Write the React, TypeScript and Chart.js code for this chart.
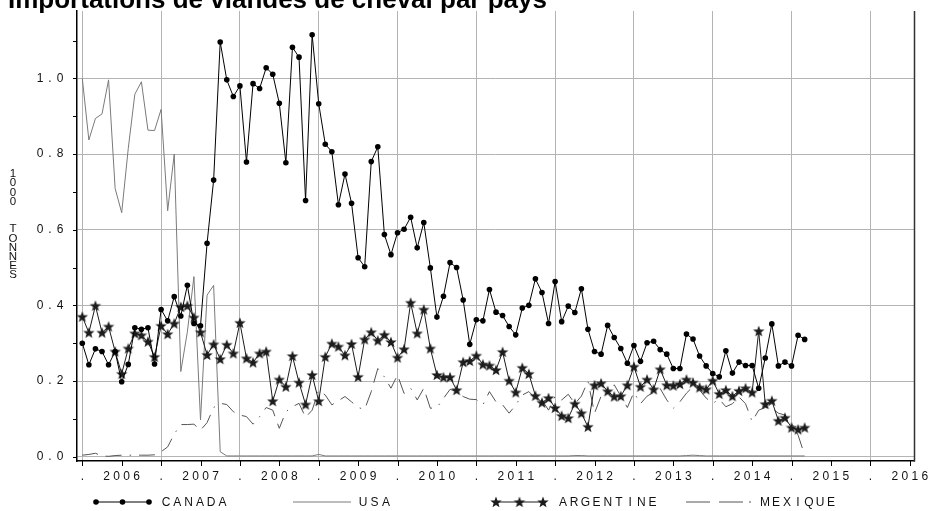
import { useEffect, useRef } from "react";
import { Chart, registerables } from "chart.js";
Chart.register(...registerables);

const TITLE = "Importations de viandes de cheval par pays";
const Y_TITLE = "1000  TONNES";
const YEARS = ["2006", "2007", "2008", "2009", "2010", "2011", "2012", "2013", "2014", "2015", "2016"];
const LEGEND = ["CANADA", "USA", "ARGENTINE", "MEXIQUE"];
const Y_TICKS = [0, 0.1, 0.2, 0.3, 0.4, 0.5, 0.6, 0.7, 0.8, 0.9, 1.0, 1.1];
const Y_LABELS = ["0.0", "", "0.2", "", "0.4", "", "0.6", "", "0.8", "", "1.0", ""];

// monthly values, first point = January 2006 (1000 tonnes)
const canada = [
  0.300, 0.243, 0.285, 0.278, 0.243, 0.278, 0.198, 0.244, 0.341, 0.337, 0.341, 0.245,
  0.389, 0.359, 0.423, 0.372, 0.453, 0.352, 0.346, 0.564, 0.731, 1.096, 0.996, 0.952,
  0.980, 0.779, 0.986, 0.973, 1.028, 1.011, 0.934, 0.777, 1.082, 1.056, 0.677, 1.115,
  0.933, 0.826, 0.806, 0.666, 0.747, 0.670, 0.526, 0.502, 0.780, 0.819, 0.587, 0.534,
  0.592, 0.601, 0.633, 0.552, 0.619, 0.499, 0.369, 0.424, 0.513, 0.500, 0.414, 0.297,
  0.362, 0.359, 0.442, 0.382, 0.373, 0.344, 0.322, 0.393, 0.400, 0.470, 0.434, 0.352,
  0.463, 0.357, 0.398, 0.381, 0.444, 0.337, 0.278, 0.271, 0.347, 0.315, 0.286, 0.247,
  0.294, 0.252, 0.301, 0.305, 0.283, 0.271, 0.233, 0.233, 0.324, 0.311, 0.266, 0.240,
  0.220, 0.211, 0.280, 0.221, 0.250, 0.241, 0.241, 0.181, 0.261, 0.351, 0.240, 0.250,
  0.240, 0.321, 0.310,
];
const usa = [
  1.000, 0.837, 0.894, 0.906, 0.996, 0.709, 0.645, 0.815, 0.958, 0.991, 0.863, 0.862,
  0.918, 0.650, 0.800, 0.225, 0.330, 0.476, 0.097, 0.427, 0.453, 0.013, 0.002, 0.002,
  0.002, 0.002, 0.002, 0.002, 0.002, 0.002, 0.002, 0.002, 0.002, 0.002, 0.002, 0.002,
  0.006, 0.002, 0.002, 0.002, 0.002, 0.002, 0.002, 0.002, 0.002, 0.002, 0.002, 0.002,
  0.002, 0.002, 0.002, 0.002, 0.002, 0.002, 0.002, 0.002, 0.002, 0.002, 0.002, 0.002,
  0.002, 0.002, 0.002, 0.002, 0.002, 0.002, 0.002, 0.002, 0.002, 0.002, 0.002, 0.002,
  0.002, 0.002, 0.002, 0.003, 0.003, 0.002, 0.002, 0.002, 0.002, 0.002, 0.002, 0.002,
  0.002, 0.002, 0.002, 0.002, 0.002, 0.002, 0.002, 0.002, 0.003, 0.004, 0.003, 0.002,
  0.002, 0.002, 0.002, 0.002, 0.002, 0.002, 0.002, 0.002, 0.002, 0.002, 0.002, 0.002,
  0.002, 0.002, 0.002,
];
const argentine = [
  0.370, 0.328, 0.399, 0.328, 0.344, 0.278, 0.219, 0.286, 0.326, 0.321, 0.304, 0.264,
  0.346, 0.324, 0.352, 0.396, 0.399, 0.368, 0.329, 0.269, 0.297, 0.258, 0.296, 0.273,
  0.354, 0.260, 0.249, 0.273, 0.278, 0.147, 0.204, 0.185, 0.266, 0.196, 0.138, 0.216,
  0.147, 0.264, 0.299, 0.291, 0.268, 0.298, 0.211, 0.310, 0.329, 0.307, 0.322, 0.303,
  0.262, 0.284, 0.407, 0.326, 0.389, 0.286, 0.216, 0.210, 0.210, 0.176, 0.250, 0.253,
  0.267, 0.244, 0.241, 0.229, 0.277, 0.201, 0.170, 0.235, 0.219, 0.161, 0.143, 0.155,
  0.129, 0.108, 0.102, 0.140, 0.115, 0.079, 0.189, 0.194, 0.173, 0.159, 0.160, 0.189,
  0.238, 0.185, 0.204, 0.178, 0.231, 0.189, 0.188, 0.192, 0.204, 0.196, 0.183, 0.178,
  0.201, 0.166, 0.176, 0.160, 0.174, 0.181, 0.170, 0.332, 0.139, 0.148, 0.095, 0.103,
  0.077, 0.072, 0.077,
];
const mexique = [
  0.004, 0.006, 0.009, 0.002, 0.001, 0.003, 0.004, 0.004, 0.004, 0.004, 0.004, 0.005,
  0.013, 0.026, 0.060, 0.085, 0.085, 0.086, 0.070, 0.090, 0.130, 0.141, 0.138, 0.119,
  0.110, 0.106, 0.086, 0.106, 0.130, 0.123, 0.075, 0.119, 0.132, 0.141, 0.104, 0.123,
  0.176, 0.163, 0.137, 0.148, 0.159, 0.145, 0.130, 0.125, 0.172, 0.233, 0.211, 0.181,
  0.216, 0.167, 0.181, 0.150, 0.181, 0.128, 0.130, 0.154, 0.178, 0.172, 0.159, 0.152,
  0.151, 0.137, 0.172, 0.145, 0.137, 0.115, 0.137, 0.163, 0.172, 0.154, 0.150, 0.123,
  0.160, 0.150, 0.165, 0.140, 0.160, 0.200, 0.115, 0.160, 0.170, 0.190, 0.160, 0.130,
  0.170, 0.140, 0.160, 0.170, 0.180, 0.150, 0.128, 0.145, 0.168, 0.185, 0.176, 0.155,
  0.141, 0.152, 0.132, 0.140, 0.158, 0.140, 0.093, 0.123, 0.130, 0.128, 0.115, 0.110,
  0.090, 0.057, 0.004,
];

const X_TICKS = Array.from({ length: 22 }, (_, i) => i * 6);
const FONT = '12px "Liberation Sans", Arial, sans-serif';
const GRID = "#b4b4b4";

function pts(arr: number[]) {
  return arr.map((v, i) => ({ x: i, y: v }));
}

function makeStar(color: string) {
  const c = document.createElement("canvas");
  c.width = 14;
  c.height = 14;
  const g = c.getContext("2d")!;
  g.beginPath();
  for (let i = 0; i < 10; i++) {
    const r = i % 2 === 0 ? 6 : 2.5;
    const a = -Math.PI / 2 + (i * Math.PI) / 5;
    const px = 7 + r * Math.cos(a);
    const py = 7.4 + r * Math.sin(a);
    if (i === 0) g.moveTo(px, py);
    else g.lineTo(px, py);
  }
  g.closePath();
  g.fillStyle = color;
  g.fill();
  return c;
}

function spaced(ctx: CanvasRenderingContext2D, text: string, cx: number, cy: number, pitch: number) {
  const start = cx - ((text.length - 1) * pitch) / 2;
  for (let i = 0; i < text.length; i++) {
    if (text[i] !== " ") ctx.fillText(text[i], start + i * pitch, cy);
  }
}

export default function App() {
  const ref = useRef<HTMLCanvasElement | null>(null);
  useEffect(() => {
    if (!ref.current) return;
    const star = makeStar("#1c1c1c");
    const deco = {
      id: "deco",
      afterDraw(chart: any) {
        const { ctx, chartArea } = chart;
        const { left, right, top, bottom } = chartArea;
        const xs = chart.scales.x;
        const ys = chart.scales.y;
        ctx.save();
        // right frame
        ctx.strokeStyle = "#333";
        ctx.lineWidth = 1.5;
        ctx.beginPath();
        ctx.moveTo(right + 0.5, top);
        ctx.lineTo(right + 0.5, bottom + 0.5);
        ctx.stroke();
        // ticks
        ctx.strokeStyle = "#000";
        ctx.lineWidth = 1;
        ctx.beginPath();
        Y_TICKS.forEach((v) => {
          const py = Math.round(ys.getPixelForValue(v)) + 0.5;
          ctx.moveTo(left - 4, py);
          ctx.lineTo(left, py);
        });
        X_TICKS.forEach((m) => {
          const px = Math.round(xs.getPixelForValue(m)) + 0.5;
          ctx.moveTo(px, bottom);
          ctx.lineTo(px, bottom + 5);
        });
        ctx.stroke();
        // tick labels
        ctx.fillStyle = "#111";
        ctx.font = FONT;
        ctx.textAlign = "center";
        ctx.textBaseline = "middle";
        Y_TICKS.forEach((v, i) => {
          const lab = Y_LABELS[i];
          if (!lab) return;
          const py = ys.getPixelForValue(v);
          const lastC = left - 17;
          const cx = lastC - ((lab.length - 1) * 10) / 2;
          spaced(ctx, lab, cx, py, 10);
        });
        X_TICKS.forEach((m, i) => {
          const px = xs.getPixelForValue(m);
          const lab = i % 2 === 0 ? "." : YEARS[(i - 1) / 2];
          spaced(ctx, lab, px, 477, 10);
        });
        // y title (stacked)
        ctx.font = '11.5px "Liberation Sans", Arial, sans-serif';
        for (let i = 0; i < Y_TITLE.length; i++) {
          if (Y_TITLE[i] !== " ") ctx.fillText(Y_TITLE[i], 13, 174 + i * 9.2);
        }
        // legend
        ctx.font = FONT;
        const ly = 502;
        ctx.strokeStyle = "#000";
        ctx.lineWidth = 1;
        ctx.beginPath();
        ctx.moveTo(96, ly);
        ctx.lineTo(149, ly);
        ctx.stroke();
        ctx.fillStyle = "#000";
        [96, 122.5, 149].forEach((cx) => {
          ctx.beginPath();
          ctx.arc(cx, ly, 2.8, 0, Math.PI * 2);
          ctx.fill();
        });
        ctx.fillStyle = "#111";
        spaced(ctx, LEGEND[0], 166 + 28.25, ly + 1, 11.3);
        ctx.strokeStyle = "#7a7a7a";
        ctx.beginPath();
        ctx.moveTo(293, ly);
        ctx.lineTo(351, ly);
        ctx.stroke();
        spaced(ctx, LEGEND[1], 374.5, ly + 1, 11.5);
        ctx.strokeStyle = "#1c1c1c";
        ctx.beginPath();
        ctx.moveTo(496, ly);
        ctx.lineTo(543, ly);
        ctx.stroke();
        [496, 519.5, 543].forEach((cx) => ctx.drawImage(star, cx - 7, ly - 7));
        spaced(ctx, LEGEND[2], 563 + 44.8, ly + 1, 11.2);
        ctx.strokeStyle = "#555";
        ctx.setLineDash([24, 9, 24, 6, 2, 100]);
        ctx.beginPath();
        ctx.moveTo(686, ly);
        ctx.lineTo(752, ly);
        ctx.stroke();
        ctx.setLineDash([]);
        spaced(ctx, LEGEND[3], 765 + 33, ly + 1, 11);
        // main title
        ctx.fillStyle = "#000";
        ctx.font = 'bold 26px "Liberation Sans", Arial, sans-serif';
        ctx.textAlign = "left";
        ctx.textBaseline = "alphabetic";
        ctx.fillText(TITLE, 8, 8);
        ctx.restore();
      },
    };
    const chart = new Chart(ref.current, {
      type: "line",
      data: {
        datasets: [
          {
            label: LEGEND[0],
            data: pts(canada),
            borderColor: "#000",
            borderWidth: 1,
            pointRadius: 2.8,
            pointBackgroundColor: "#000",
            pointBorderWidth: 0,
          },
          {
            label: LEGEND[2],
            data: pts(argentine),
            borderColor: "#1c1c1c",
            borderWidth: 1,
            pointRadius: 5,
            pointStyle: star as any,
          },
          {
            label: LEGEND[1],
            data: pts(usa),
            borderColor: "#7a7a7a",
            borderWidth: 1,
            pointRadius: 0,
          },
          {
            label: LEGEND[3],
            data: pts(mexique),
            borderColor: "#555",
            borderWidth: 1,
            borderDash: [16, 8, 16, 8, 1.5, 8],
            pointRadius: 0,
          },
        ],
      },
      options: {
        animation: false,
        responsive: false,
        devicePixelRatio: 1,
        layout: { padding: { top: 11, right: 16, left: 0, bottom: 0 } },
        plugins: {
          legend: { display: false },
          title: { display: false },
          tooltip: { enabled: false },
        },
        elements: { line: { tension: 0 } },
        scales: {
          x: {
            type: "linear",
            min: -0.807,
            max: 126.65,
            afterBuildTicks: (s: any) => {
              s.ticks = X_TICKS.map((v) => ({ value: v }));
            },
            afterFit: (s: any) => {
              s.height = 50;
            },
            ticks: { display: false },
            grid: {
              drawTicks: false,
              lineWidth: 1,
              color: (c: any) => (c.tick && c.tick.value % 12 === 0 ? GRID : "rgba(0,0,0,0)"),
            },
            border: { display: true, color: "#000", width: 1.5 },
          },
          y: {
            type: "linear",
            min: -0.01137,
            max: 1.178,
            afterBuildTicks: (s: any) => {
              s.ticks = Y_TICKS.map((v) => ({ value: v }));
            },
            afterFit: (s: any) => {
              s.width = 77;
            },
            ticks: { display: false },
            grid: {
              drawTicks: false,
              lineWidth: 1,
              color: (c: any) =>
                c.tick && Math.round(c.tick.value * 10) % 2 === 0 ? GRID : "rgba(0,0,0,0)",
            },
            border: { display: true, color: "#000", width: 1.5 },
          },
        },
      },
      plugins: [deco],
    });
    return () => chart.destroy();
  }, []);
  return (
    <div style={{ position: "absolute", left: 0, top: 0, width: 930, height: 511, background: "#fff" }}>
      <canvas ref={ref} width={930} height={511} />
    </div>
  );
}
